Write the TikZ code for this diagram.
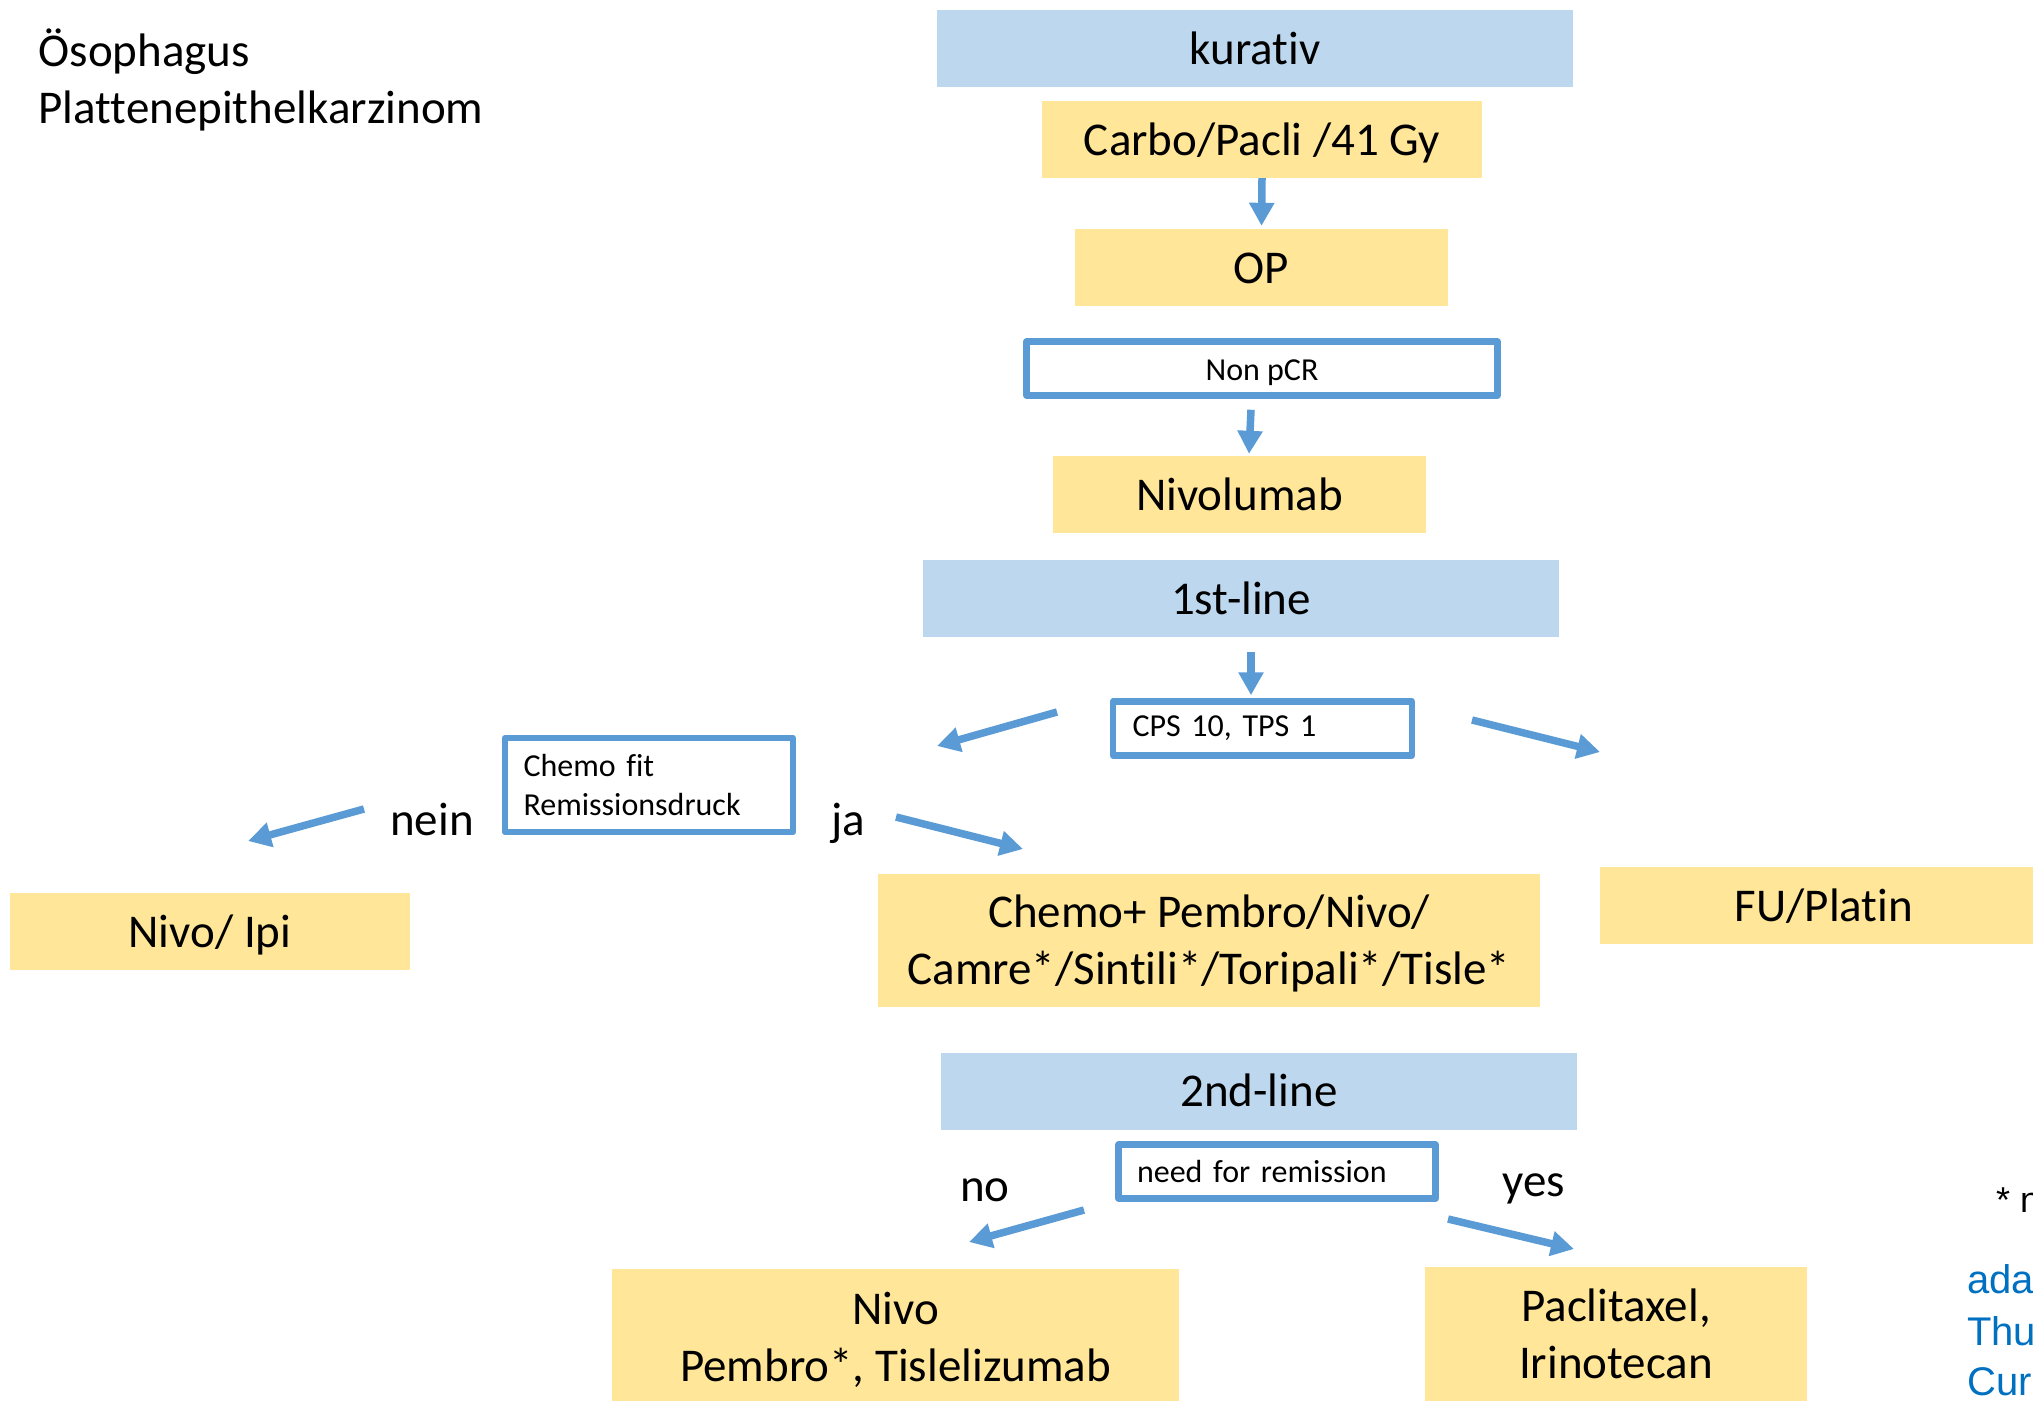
\documentclass[tikz,border=0pt]{standalone}
\usepackage{fontspec}
\setmainfont{Carlito}[Ligatures=NoCommon]
\newfontfamily\arialfont{Liberation Sans}
\usetikzlibrary{arrows.meta}
\definecolor{headblue}{HTML}{BDD7EE}
\definecolor{boxyellow}{HTML}{FFE699}
\definecolor{lineblue}{HTML}{5B9BD5}
\definecolor{refblue}{HTML}{0070C0}
\newcommand{\bigtxt}{\fontsize{47}{57}\selectfont}
\newcommand{\smalltxt}{\fontsize{32}{39}\selectfont}
\frenchspacing
\tikzset{
  head/.style={fill=headblue, minimum width=636pt, minimum height=77pt, font=\bigtxt,
    text height=37pt, text depth=6pt},
  therapy/.style={fill=boxyellow, minimum height=77pt, align=center, font=\bigtxt,
    text height=37pt, text depth=6pt},
  twolines/.style={text height=92pt, text depth=5pt},
  decision/.style={draw=lineblue, line width=6.5pt, line join=round, fill=white,
    minimum height=54pt, font=\smalltxt},
  arr/.style={draw=lineblue, line width=7.5pt, -{Triangle[length=23pt,width=24pt]}},
  answer/.style={anchor=base, font=\bigtxt}
}
\begin{document}
\begin{tikzpicture}[x=1pt, y=-1pt]
  \clip (0,0) rectangle (2033,1400);
  \node[anchor=west, align=left, font=\bigtxt] (title) at (35,80) {Ösophagus\\Plattenepithelkarzinom};
  % kurativ
  \node[head] (kurativ) at (1255,48.5) {kurativ};
  \node[therapy, minimum width=440pt] (carbo) at (1262,139.5) {Carbo/Pacli /41 Gy};
  \node[therapy, minimum width=373pt] (op) at (1261.5,267.5) {OP};
  \node[decision, minimum width=471pt, text height=29pt, text depth=5pt] (nonpcr) at (1262,368.5) {Non pCR};
  \node[therapy, minimum width=373pt] (nivolumab) at (1239.5,494.5) {Nivolumab};
  \draw[arr] (carbo.south) -- ([yshift=3pt]op.north);
  \draw[arr] ([xshift=-11pt,yshift=-11pt]nonpcr.south) -- ([xshift=9.5pt,yshift=2pt]nivolumab.north);
  % 1st-line
  \node[head] (first) at (1241,598.5) {1st-line};
  \node[decision, minimum width=299pt, text width=260pt, align=left] (cps) at (1262.5,728.5) {CPS 10, TPS 1};
  \node[decision, minimum width=288pt, minimum height=94pt, text width=251pt, align=left] (fit) at (649,785) {Chemo fit\\Remissionsdruck};
  \node[therapy, minimum width=400pt] (nivoipi) at (210,931.5) {Nivo/ Ipi};
  \node[therapy, twolines, minimum width=662pt, minimum height=133pt] (chemo) at (1209,940.5) {Chemo+ Pembro/Nivo/\\Camre*/Sintili*/Toripali*/Tisle*};
  \node[therapy, minimum width=448pt] (fu) at (1824,905.5) {FU/Platin};
  \node[answer] (nein) at (432,835) {nein};
  \node[answer] (ja) at (848,835) {ja};
  \draw[arr] ([xshift=10pt,yshift=-15pt]first.south) -- ([xshift=-11.5pt,yshift=3pt]cps.north);
  \coordinate (cpsL1) at (1057,712);
  \coordinate (cpsL2) at (937,746);
  \coordinate (cpsR1) at (1472,720);
  \coordinate (cpsR2) at (1600,752);
  \coordinate (nein1) at (364,809);
  \coordinate (nein2) at (248,841);
  \coordinate (ja1) at (896,817);
  \coordinate (ja2) at (1023,849);
  \draw[arr] (cpsL1) -- (cpsL2);
  \draw[arr] (cpsR1) -- (cpsR2);
  \draw[arr] (nein1) -- (nein2);
  \draw[arr] (ja1) -- (ja2);
  % 2nd-line
  \node[head] (second) at (1259,1091) {2nd-line};
  \node[decision, minimum width=317pt, text width=280pt, align=left] (remission) at (1277,1171.5) {need for remission};
  \node[therapy, twolines, minimum width=567pt, minimum height=138pt] (nivopembro) at (895.5,1338) {Nivo\\Pembro*, Tislelizumab};
  \node[therapy, twolines, minimum width=382pt, minimum height=136pt] (pacli) at (1616,1335) {Paclitaxel,\\Irinotecan};
  \node[answer] (no) at (985,1201) {no};
  \node[answer] (yes) at (1534,1196) {yes};
  \coordinate (no1) at (1084,1210);
  \coordinate (no2) at (969,1242);
  \coordinate (yes1) at (1448,1219);
  \coordinate (yes2) at (1574,1249);
  \draw[arr] (no1) -- (no2);
  \draw[arr] (yes1) -- (yes2);
  % footnote, cut at the edge
  \node[anchor=base west, font=\arialfont\fontsize{36}{43}\selectfont, inner sep=0pt] (star) at (1996,1212) {* n};
  \node[anchor=base west, font=\arialfont\fontsize{40}{50}\selectfont, text=refblue, inner sep=0pt] (ref1) at (1967,1293) {ada};
  \node[anchor=base west, font=\arialfont\fontsize{40}{50}\selectfont, text=refblue, inner sep=0pt] (ref2) at (1967,1345) {Thu};
  \node[anchor=base west, font=\arialfont\fontsize{40}{50}\selectfont, text=refblue, inner sep=0pt] (ref3) at (1967,1395) {Cur};
\end{tikzpicture}
\end{document}
